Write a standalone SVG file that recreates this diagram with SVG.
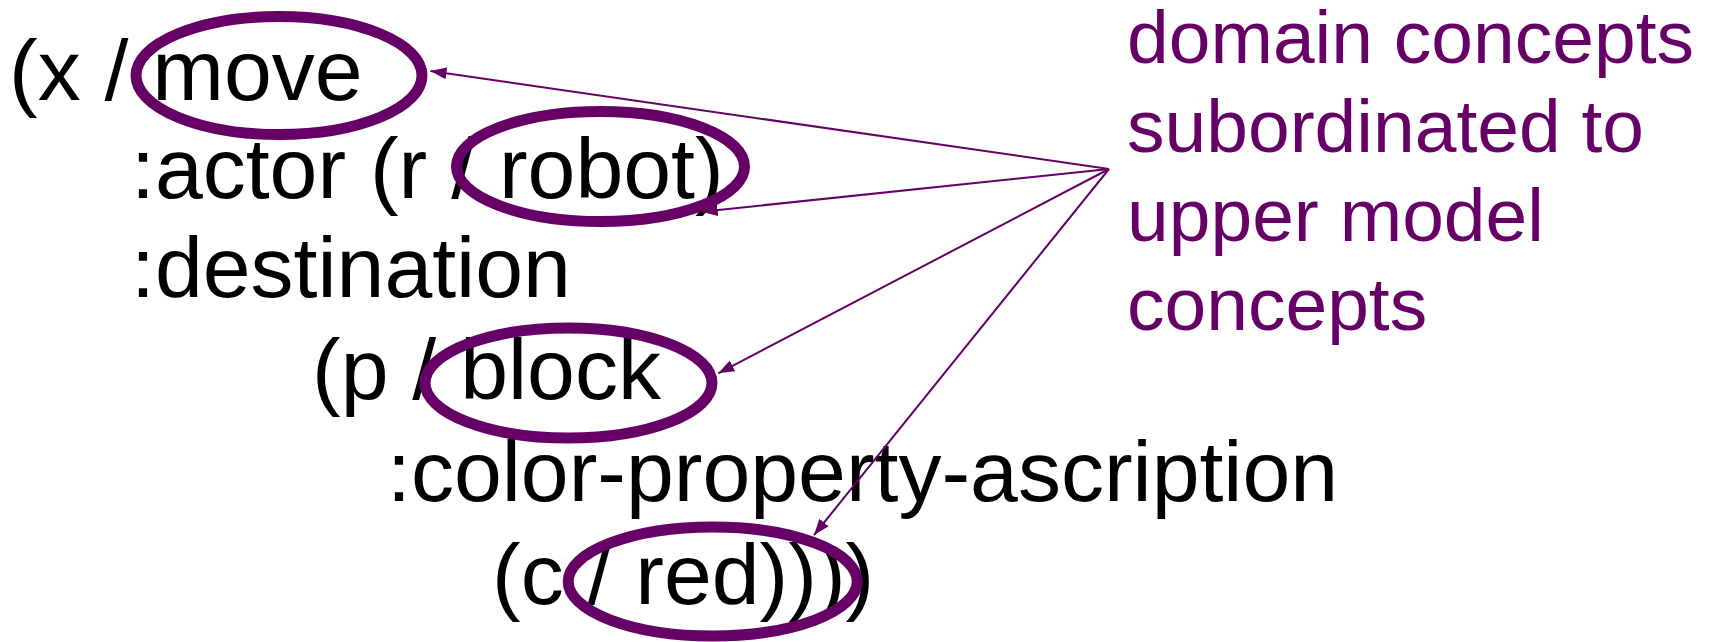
<svg xmlns="http://www.w3.org/2000/svg" width="1713" height="642" viewBox="0 0 1713 642">
<style>
.t{font-family:"Liberation Sans",Arial,sans-serif;font-size:86px;fill:#000}
.p{font-family:"Liberation Sans",Arial,sans-serif;font-size:75px;fill:#660066}
.e{fill:none;stroke:#660066;stroke-width:11}
.c{stroke:#660066;stroke-width:2;fill:none;marker-end:url(#ah)}
</style>
<defs>
<marker id="ah" markerUnits="userSpaceOnUse" markerWidth="16" markerHeight="12" refX="16" refY="6" orient="auto">
<path d="M0,0 L16,6 L0,12 z" fill="#660066"/>
</marker>
</defs>
<rect width="1713" height="642" fill="#fff"/>
<g id="code">
<text class="t" x="9" y="100">(x / move</text>
<text class="t" x="131" y="198">:actor (r / robot)</text>
<text class="t" x="131" y="297">:destination</text>
<text class="t" x="312" y="399">(p / block</text>
<text class="t" x="387" y="501">:color-property-ascription</text>
<text class="t" x="492" y="604">(c / red))))</text>
</g>
<g id="ellipse-move"><ellipse class="e" cx="279" cy="75.5" rx="143" ry="59"/></g>
<g id="ellipse-robot"><ellipse class="e" cx="600.5" cy="166.5" rx="144" ry="55"/></g>
<g id="ellipse-block"><ellipse class="e" cx="568.5" cy="383" rx="143.5" ry="55"/></g>
<g id="ellipse-red"><ellipse class="e" cx="712.7" cy="581.5" rx="144.5" ry="54.5"/></g>
<g id="label">
<text class="p" x="1127" y="62.7">domain concepts</text>
<text class="p" x="1127" y="151.7">subordinated to</text>
<text class="p" x="1127" y="240.7">upper model</text>
<text class="p" x="1127" y="330">concepts</text>
</g>
<g id="connectors">
<line class="c" x1="1109" y1="169" x2="430.5" y2="71"/>
<line class="c" x1="1109" y1="169" x2="701.7" y2="211.7"/>
<line class="c" x1="1109" y1="169" x2="718.3" y2="373.3"/>
<line class="c" x1="1109" y1="169" x2="814" y2="535"/>
</g>
</svg>
